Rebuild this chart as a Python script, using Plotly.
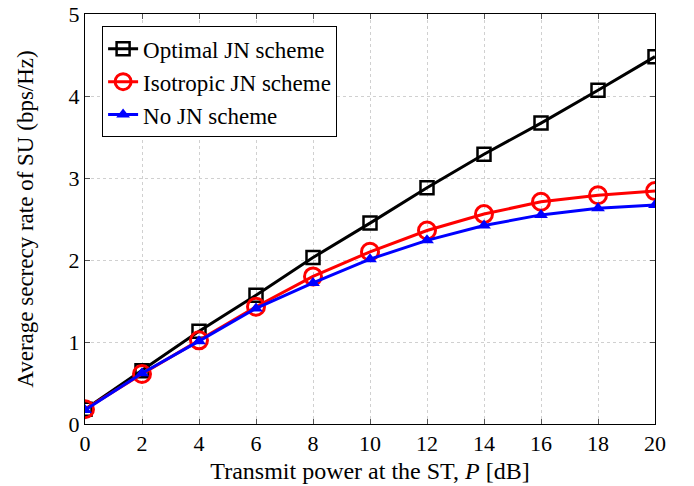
import plotly.graph_objects as go

# transmit power P [dB]
power_db = [0, 2, 4, 6, 8, 10, 12, 14, 16, 18, 20]

# average secrecy rate (bps/Hz)
optimal_jn = [0.18, 0.65, 1.13, 1.57, 2.03, 2.45, 2.88, 3.29, 3.67, 4.07, 4.48]
isotropic_jn = [0.18, 0.61, 1.02, 1.43, 1.80, 2.10, 2.36, 2.56, 2.71, 2.79, 2.84]
no_jn = [0.17, 0.62, 1.01, 1.41, 1.72, 2.01, 2.24, 2.42, 2.55, 2.63, 2.67]

font = "Liberation Serif, Times New Roman, serif"

fig = go.Figure()
fig.add_trace(go.Scatter(x=power_db, y=optimal_jn, mode="lines+markers", name="Optimal JN scheme",
                         line=dict(color="black", width=3),
                         marker=dict(symbol="square-open", size=13, color="black", line=dict(width=2.5))))
fig.add_trace(go.Scatter(x=power_db, y=isotropic_jn, mode="lines+markers", name="Isotropic JN scheme",
                         line=dict(color="red", width=3),
                         marker=dict(symbol="circle-open", size=17, color="red", line=dict(width=3))))
fig.add_trace(go.Scatter(x=power_db, y=no_jn, mode="lines+markers", name="No JN scheme",
                         line=dict(color="blue", width=3),
                         marker=dict(symbol="triangle-up", size=12, color="blue")))

axis_style = dict(showline=True, linecolor="black", linewidth=1, mirror="ticks",
                  ticks="inside", ticklen=5, tickcolor="#555555",
                  showgrid=True, gridcolor="#d0d0d0", griddash="dot", gridwidth=1,
                  zeroline=False, ticklabeloverflow="allow", automargin=False,
                  tickfont=dict(size=22, color="black"))

fig.update_layout(
    width=694, height=486,
    margin=dict(l=85, r=39, t=14, b=62),
    plot_bgcolor="white", paper_bgcolor="white",
    font=dict(family=font, color="black", size=22),
    showlegend=True,
    legend=dict(x=0.03, y=0.97, xanchor="left", yanchor="top",
                bgcolor="white", bordercolor="black", borderwidth=1,
                font=dict(size=23), tracegroupgap=0),
    xaxis=dict(axis_style, range=[0, 20], tickvals=power_db,
               title=dict(text="Transmit power at the ST, <i>P</i> [dB]", font=dict(size=24), standoff=6)),
    yaxis=dict(axis_style, range=[0, 5], tickvals=[0, 1, 2, 3, 4, 5],
               title=dict(text="Average secrecy rate of SU (bps/Hz)", font=dict(size=23), standoff=28)),
)

# drop the default page margin so the figure sits at the window's corner
fig.write_html("out.html", config={"displayModeBar": False},
               post_script="document.body.style.margin = '0';")
